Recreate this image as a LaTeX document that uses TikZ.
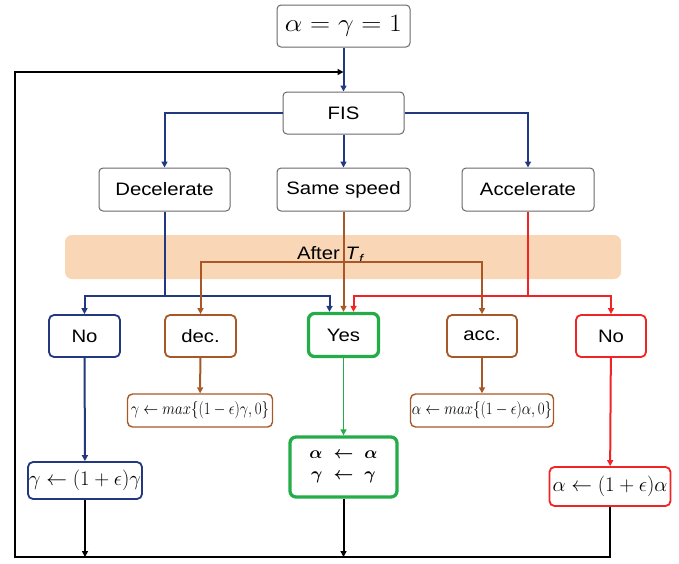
\documentclass[tikz,border=0pt]{standalone}
\usepackage{fontspec}
\setmainfont{Liberation Sans}
\usepackage{amsmath}
\usepackage{graphicx}
\usetikzlibrary{arrows.meta}
\definecolor{navy}{RGB}{34,56,128}
\definecolor{brn}{RGB}{168,88,38}
\definecolor{rd}{RGB}{240,36,36}
\definecolor{grn}{RGB}{36,172,72}
\definecolor{gbd}{RGB}{105,105,105}
\definecolor{band}{RGB}{248,214,182}
\newcommand{\wtxt}[1]{\scalebox{1.13}[1]{#1}}
\begin{document}
\begin{tikzpicture}[x=1pt,y=-1pt,
  every node/.style={inner sep=0pt, font=\fontsize{18}{21}\selectfont},
  gbox/.style={draw=gbd, line width=1pt, rounded corners=4pt, fill=white},
  cbox/.style={draw=#1, line width=1.8pt, rounded corners=5pt, fill=white},
  ybox/.style={draw=grn, line width=3.3pt, rounded corners=6pt, fill=white},
  con/.style={line width=2pt, -{Triangle[length=6pt,width=6pt]}},
  plain/.style={line width=2pt}
]
\useasboundingbox (0,0) rectangle (679,563);
% band
\fill[band, rounded corners=7pt] (65,235) rectangle (621,279);
\node (after) at (331,255) {\wtxt{After \textit{T}\textsubscript{\textit{f}}}};
% top row
\node[gbox, minimum width=133pt, minimum height=42pt] (init) at (343.5,26)
  {\scalebox{1.12}[1]{\fontsize{24}{26}\selectfont$\alpha=\gamma=1$}};
\node[gbox, minimum width=121pt, minimum height=42pt] (fis) at (343.5,113) {\wtxt{FIS}};
\node[gbox, minimum width=131pt, minimum height=43pt] (decel) at (164.5,189.5) {\wtxt{Decelerate}};
\node[gbox, minimum width=133pt, minimum height=43pt] (same) at (343.5,189.5) {\wtxt{Same speed}};
\node[gbox, minimum width=132pt, minimum height=43pt] (accel) at (528,189.5) {\wtxt{Accelerate}};
% middle row
\node[cbox=navy, minimum width=71pt, minimum height=42pt] (noB) at (84.5,336) {\wtxt{No}};
\node[cbox=brn, minimum width=71pt, minimum height=42pt] (decS) at (200.5,336) {\wtxt{dec.}};
\node[ybox, minimum width=70pt, minimum height=43pt] (yes) at (343.5,335) {\wtxt{Yes}};
\node[cbox=brn, minimum width=70pt, minimum height=42pt] (accS) at (482,336) {\wtxt{acc.}};
\node[cbox=rd, minimum width=70pt, minimum height=42pt] (noR) at (611,336) {\wtxt{No}};
% formula boxes
\node[cbox=brn, line width=1.4pt, minimum width=145pt, minimum height=33pt] (decF) at (200,410.5)
  {\scalebox{0.86}[1]{\fontsize{17}{19}\selectfont$\gamma\leftarrow max\{(1-\epsilon)\gamma,0\}$}};
\node[cbox=brn, line width=1.4pt, minimum width=143pt, minimum height=33pt] (accF) at (482,410.5)
  {\scalebox{0.86}[1]{\fontsize{17}{19}\selectfont$\alpha\leftarrow max\{(1-\epsilon)\alpha,0\}$}};
\node[cbox=navy, minimum width=114pt, minimum height=37pt] (blueF) at (85,480.5)
  {\fontsize{19.5}{22}\selectfont$\gamma\leftarrow(1+\epsilon)\gamma$};
\node[ybox, minimum width=107pt, minimum height=60pt, align=center,
  font=\fontsize{19}{21}\selectfont\boldmath] (greenF) at (343.5,467)
  {$\alpha\;\leftarrow\;\alpha$\\$\gamma\;\leftarrow\;\gamma$};
\node[cbox=rd, minimum width=121pt, minimum height=39pt] (redF) at (610,486.5)
  {\fontsize{20}{22}\selectfont$\alpha\leftarrow(1+\epsilon)\alpha$};
% junction coordinates
\coordinate (bj) at (164.5,296);
\coordinate (rj) at (528,296);
\coordinate (brj) at (343.5,262);
\coordinate (bl) at (15,557);
\coordinate (loopin) at (343.5,72);
% blue connectors
\draw[con, navy] (init) -- (fis);
\draw[con, navy] (fis) -| (decel);
\draw[con, navy] (fis) -- (same);
\draw[con, navy] (fis) -| (accel);
\draw[plain, navy] (decel) -- (bj);
\draw[con, navy] (bj) -| (noB);
\draw[con, navy] (bj) -| ([xshift=-14pt]yes.north);
\draw[con, navy] (noB) -- (blueF);
% brown connectors
\draw[con, brn] (same) -- (yes);
\draw[con, brn] (brj) -| (decS);
\draw[con, brn] (brj) -| (accS);
\draw[con, brn] (decS) -- (decF);
\draw[con, brn] (accS) -- (accF);
% red connectors
\draw[plain, rd] (accel) -- (rj);
\draw[con, rd] (rj) -| ([xshift=10pt]yes.north);
\draw[con, rd] (rj) -| (noR);
\draw[con, rd] (noR) -- (redF);
% green
\draw[con, grn, line width=1.6pt] (yes) -- (greenF);
% loop back
\draw[plain, black, -{Triangle[length=6pt,width=6pt]}] (redF.south) |- (bl) |- (loopin);
\draw[con, black] (blueF.south) -- (blueF.south |- bl);
\draw[con, black] (greenF.south) -- (greenF.south |- bl);
\end{tikzpicture}
\end{document}
